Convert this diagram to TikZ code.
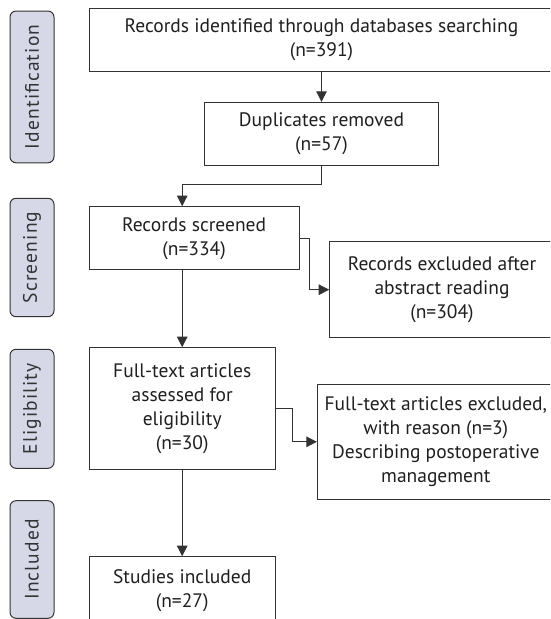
\documentclass[tikz,border=0pt]{standalone}
\usepackage{fontspec}
\setmainfont{PT Sans}
\newfontfamily\phasefont[LetterSpace=6]{PT Sans}
\usetikzlibrary{arrows.meta}
\definecolor{phasefill}{HTML}{D6D8E8}
\definecolor{linegray}{HTML}{333333}
\begin{document}
\begin{tikzpicture}[x=1pt,y=-1pt,
  box/.style={draw=linegray,line width=1pt,align=center,inner sep=0pt,text=black!88,font=\fontsize{19.5}{24}\selectfont},
  phase/.style={draw=linegray,fill=phasefill,rounded corners=6pt,line width=1pt,rotate=90,minimum height=44pt,inner sep=0pt,text=black!80,font=\phasefont\fontsize{19.5}{22}\selectfont},
  arr/.style={draw=linegray,line width=1pt,-{Triangle[length=10.5pt,width=10.5pt]}}]
\useasboundingbox (0,0) rectangle (550,619);
\clip (0,0) rectangle (550,619);
\node[phase,minimum width=151.7pt] (ident) at (32,86.9) {Identification};
\node[phase,minimum width=118.4pt] (screen) at (32,257.5) {Screening};
\node[phase,minimum width=119pt] (elig) at (32,408.8) {Eligibility};
\node[phase,minimum width=117.6pt] (incl) at (32,559.5) {Included};
\node[box,minimum width=465pt,minimum height=62.7pt] (found) at (321.5,39.7) {Records identified through databases searching\\(n=391)};
\node[box,minimum width=234pt,minimum height=63.4pt] (dups) at (321.5,134) {Duplicates removed\\(n=57)};
\node[box,minimum width=210pt,minimum height=63.3pt] (screened) at (194.1,238.3) {Records screened\\(n=334)};
\node[box,minimum width=224.6pt,minimum height=96pt] (abstrexcl) at (442,289.7) {Records excluded after\\abstract reading\\(n=304)};
\node[box,minimum width=186.3pt,minimum height=122.3pt] (fulltext) at (182.2,408.8) {Full-text articles\\assessed for\\eligibility\\(n=30)};
\node[box,minimum width=236.8pt,minimum height=115pt] (fullexcl) at (435.8,441.8) {Full-text articles excluded,\\with reason (n=3)\\Describing postoperative\\management};
\node[box,minimum width=186.3pt,minimum height=67pt] (studies) at (182.2,590.2) {Studies included\\(n=27)};
\draw[arr] (found) -- (dups);
\draw[arr] (dups.south) -- ++(0,18.6) -| (screened.north -| fulltext.north);
\draw[arr] (screened.south -| fulltext.north) -- (fulltext.north);
\draw[arr] (screened.east) -- ++(9.5,0) |- (abstrexcl.west);
\draw[arr] (fulltext.east) -- ++(17,0) |- (fullexcl.west);
\draw[arr] (fulltext) -- (studies);
\end{tikzpicture}
\end{document}
